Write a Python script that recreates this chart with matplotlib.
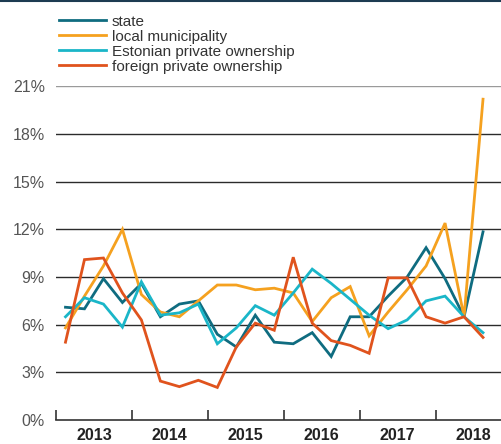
import matplotlib.pyplot as plt
from matplotlib.lines import Line2D

# quarterly data, 2013 Q1 .. 2018 Q3 (%)
years = ["2013", "2014", "2015", "2016", "2017", "2018"]

state = [7.1, 7.0, 8.9, 7.4, 8.6, 6.5, 7.3, 7.5, 5.4, 4.6, 6.6, 4.9,
         4.8, 5.5, 4.0, 6.5, 6.5, 7.8, 9.0, 10.85, 8.9, 6.5, 11.85]
local_municipality = [5.8, 7.8, 9.7, 12.0, 7.9, 6.8, 6.5, 7.5, 8.5, 8.5, 8.2, 8.3,
                      8.0, 6.2, 7.7, 8.4, 5.3, 6.8, 8.2, 9.7, 12.4, 6.5, 20.2]
estonian_private = [6.5, 7.7, 7.3, 5.85, 8.7, 6.6, 6.75, 7.3, 4.8, 5.8, 7.2, 6.6,
                    8.0, 9.5, 8.6, 7.6, 6.6, 5.75, 6.3, 7.5, 7.8, 6.5, 5.5]
foreign_private = [4.9, 10.1, 10.2, 8.0, 6.3, 2.45, 2.1, 2.5, 2.05, 4.6, 6.1, 5.65,
                   10.25, 6.1, 5.0, 4.7, 4.2, 8.95, 8.95, 6.5, 6.1, 6.5, 5.2]

series = [
    ("state", state, "#0f6c80"),
    ("local municipality", local_municipality, "#f5a11f"),
    ("Estonian private ownership", estonian_private, "#1ab6c8"),
    ("foreign private ownership", foreign_private, "#e0531d"),
]

plt.rcParams['font.family'] = ['Liberation Sans', 'DejaVu Sans']

W, H = 502, 444
fig = plt.figure(figsize=(W / 100, H / 100), dpi=100)
ax = fig.add_axes([56 / W, 24 / H, (W - 56) / W, (420 - 86.5) / H])

x = list(range(len(state)))
handles = []
for name, vals, col in series:
    h, = ax.plot(x, vals, color=col, lw=2.0, label=name, clip_on=False,
                 solid_joinstyle='miter')
    handles.append(h)

ax.set_xlim(-0.5, 23.0)
ax.set_ylim(0, 21)

# gridlines
for v in range(3, 22, 3):
    c = "#9a9a9a" if v == 21 else "#2b2b2b"
    ax.axhline(v, color=c, lw=1.0, zorder=0)

for s in ["top", "right", "left"]:
    ax.spines[s].set_visible(False)
ax.spines["bottom"].set_color("#333333")
ax.spines["bottom"].set_linewidth(1.2)

ax.set_yticks(range(0, 22, 3))
ax.set_yticklabels([f"{v}%" for v in range(0, 22, 3)])
ax.tick_params(axis="y", length=0, pad=8, labelsize=11.5, labelcolor="#555555")

ax.set_xticks([-0.5 + 4 * i for i in range(6)])
ax.set_xticklabels([])
ax.tick_params(axis="x", which="major", direction="in", length=7, width=1.2, color="#333333")
ax.set_xticks([1.5 + 4 * i for i in range(6)], minor=True)
ax.set_xticklabels(years, minor=True, fontweight="bold", fontsize=11.5, color="#222222")
ax.tick_params(axis="x", which="minor", length=0, pad=5.5)

fig.legend(handles=handles, loc="upper left", bbox_to_anchor=(59 / W, 1 - 14.5 / H),
           frameon=False, fontsize=11, handlelength=3.1, handletextpad=0.35,
           labelspacing=0.07, borderpad=0, borderaxespad=0, labelcolor="#333333")

# thin top border
fig.add_artist(Line2D([0, 1], [1 - 0.8 / H, 1 - 0.8 / H], color="#1d3b52", lw=1.5,
                      transform=fig.transFigure))

fig.savefig("out.png", dpi=100)
